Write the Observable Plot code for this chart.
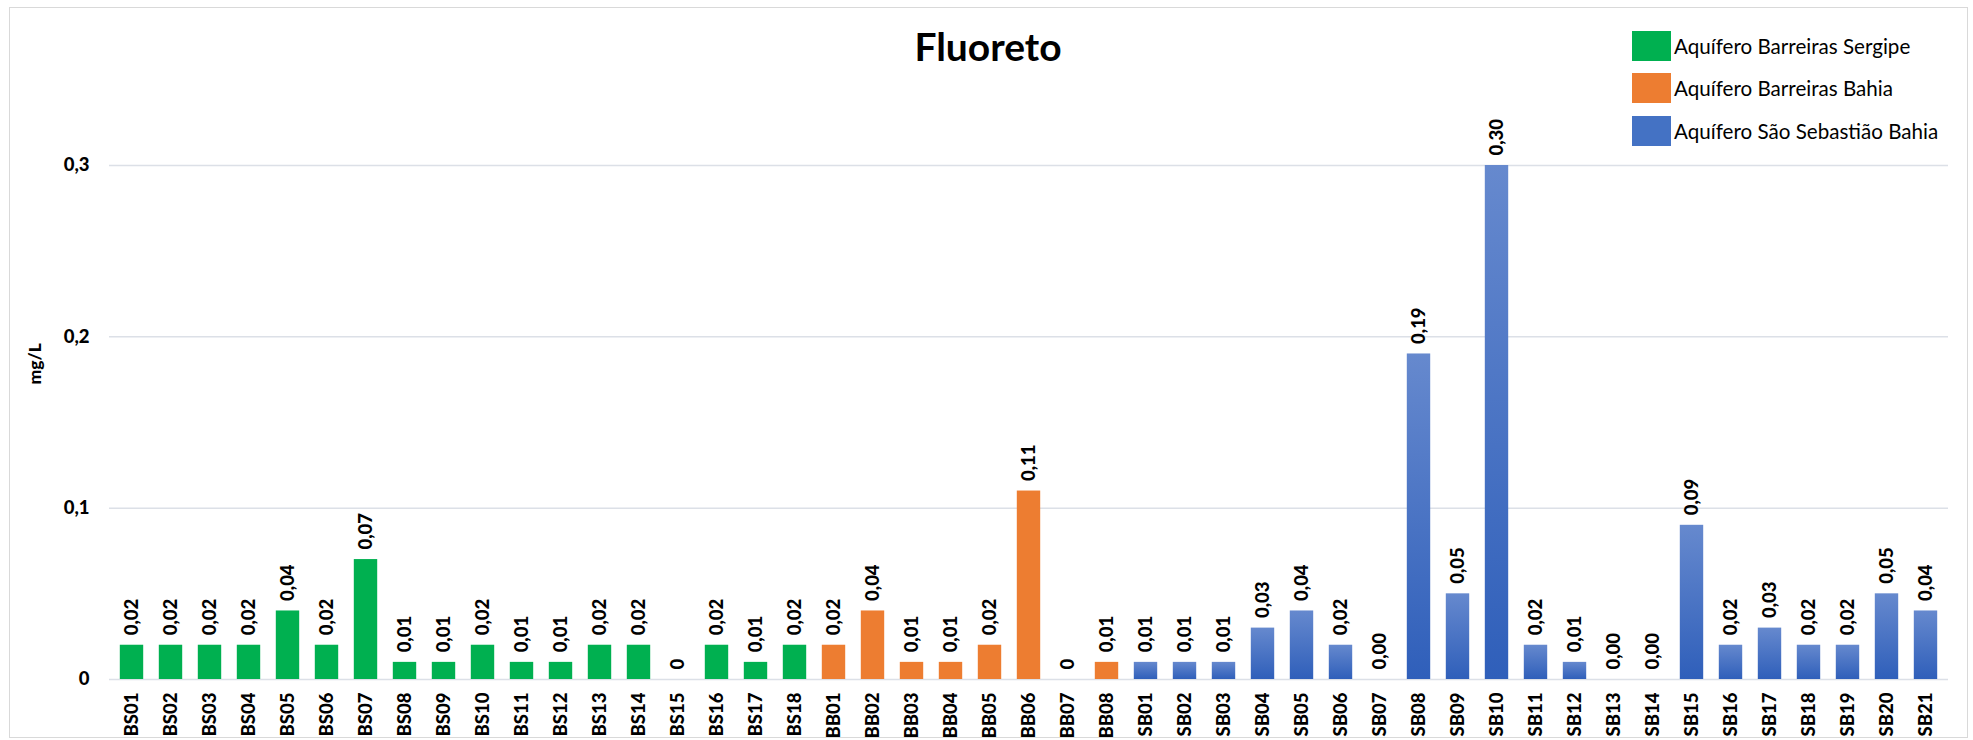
<!DOCTYPE html>
<html lang="pt">
<head>
<meta charset="utf-8">
<script src="https://cdn.jsdelivr.net/npm/d3@7"></script>
<script src="https://cdn.jsdelivr.net/npm/@observablehq/plot@0.6"></script>
<style>
  html, body { margin: 0; padding: 0; background: #fff; }
  #chart { position: relative; width: 1973px; height: 740px; font-family: Lato, "Open Sans", sans-serif; color: #000; }
  #chart svg { position: absolute; left: 0; top: 0; }
  #frame { position: absolute; left: 9px; top: 7px; width: 1959px; height: 731px; border: 1px solid #d9d9d9; box-sizing: border-box; }
  #title { position: absolute; left: 788px; width: 400px; top: 22px; text-align: center; font-weight: 700; font-size: 39px; line-height: 48px; }
  .key { position: absolute; left: 1632px; height: 30px; display: flex; align-items: center; font-size: 20.6px; white-space: nowrap; }
  .swatch { width: 39px; height: 30px; margin-right: 3px; }
</style>
</head>
<body>
<div id="chart">
  <div id="frame"></div>
</div>
<script>
// Fluoride concentration (mg/L) per well, grouped by aquifer
const bsIds = ["BS01","BS02","BS03","BS04","BS05","BS06","BS07","BS08","BS09","BS10","BS11","BS12","BS13","BS14","BS15","BS16","BS17","BS18"];
const bsValues = [0.02,0.02,0.02,0.02,0.04,0.02,0.07,0.01,0.01,0.02,0.01,0.01,0.02,0.02,0,0.02,0.01,0.02];

const bbIds = ["BB01","BB02","BB03","BB04","BB05","BB06","BB07","BB08"];
const bbValues = [0.02,0.04,0.01,0.01,0.02,0.11,0,0.01];

const sbIds = ["SB01","SB02","SB03","SB04","SB05","SB06","SB07","SB08","SB09","SB10","SB11","SB12","SB13","SB14","SB15","SB16","SB17","SB18","SB19","SB20","SB21"];
const sbValues = [0.01,0.01,0.01,0.03,0.04,0.02,0.00,0.19,0.05,0.30,0.02,0.01,0.00,0.00,0.09,0.02,0.03,0.02,0.02,0.05,0.04];

const groupNames = ["Aquífero Barreiras Sergipe", "Aquífero Barreiras Bahia", "Aquífero São Sebastião Bahia"];
const groupColors = ["#00b050", "#ed7d31", "#4472c4"];
const yTicks = [0, 0.1, 0.2, 0.3];

const rows = [
  ...bsIds.map((id, i) => ({id, value: bsValues[i], group: 0})),
  ...bbIds.map((id, i) => ({id, value: bbValues[i], group: 1})),
  ...sbIds.map((id, i) => ({id, value: sbValues[i], group: 2}))
];

// Barreiras wells print a plain "0" for zero; São Sebastião keeps two decimals
const fmt = (d) => (d.value === 0 && d.group !== 2) ? "0" : d.value.toFixed(2).replace(".", ",");
const decimalComma = (v) => v === 0 ? "0" : String(v).replace(".", ",");

const gradientDefs = () => {
  const defs = d3.create("svg:defs");
  const g = defs.append("linearGradient").attr("id", "sbgrad")
    .attr("x1", 0).attr("y1", 0).attr("x2", 0).attr("y2", 1);
  g.append("stop").attr("offset", "0%").attr("stop-color", "#6689ce");
  g.append("stop").attr("offset", "100%").attr("stop-color", "#2f5fba");
  return defs.node();
};

const labelFont = {fontSize: 18.5, fontWeight: 900, fill: "#000"};

const chart = Plot.plot({
  width: 1973,
  height: 740,
  marginLeft: 109,
  marginRight: 25,
  marginTop: 165,
  marginBottom: 61,
  style: {fontFamily: "Lato, 'Open Sans', sans-serif", color: "#000", background: "transparent", overflow: "visible"},
  x: {domain: rows.map(d => d.id), padding: 0},
  y: {domain: [0, 0.3]},
  marks: [
    gradientDefs,
    Plot.gridY(yTicks, {stroke: "#dce0e7", strokeOpacity: 1, strokeWidth: 1.5}),
    Plot.barY(rows.filter(d => d.group === 0), {x: "id", y: "value", fill: groupColors[0], insetLeft: 7.8, insetRight: 7.8}),
    Plot.barY(rows.filter(d => d.group === 1), {x: "id", y: "value", fill: groupColors[1], insetLeft: 7.8, insetRight: 7.8}),
    Plot.barY(rows.filter(d => d.group === 2), {x: "id", y: "value", fill: "url(#sbgrad)", insetLeft: 7.8, insetRight: 7.8}),
    Plot.text(rows, {x: "id", y: "value", text: fmt, rotate: -90, textAnchor: "start", dy: -10, ...labelFont}),
    Plot.axisY({ticks: yTicks, tickSize: 0, tickPadding: 20, tickFormat: decimalComma, label: null, fontSize: 18.5, fontWeight: 900}),
    Plot.axisX({tickRotate: -90, tickSize: 0, tickPadding: 13, label: null, fontSize: 18.5, fontWeight: 900}),
    Plot.text(["mg/L"], {frameAnchor: "left", dx: -74, dy: -38, rotate: -90, ...labelFont, fontSize: 17.5})
  ]
});

const container = document.getElementById("chart");
container.appendChild(chart);

const title = document.createElement("div");
title.id = "title";
title.textContent = "Fluoreto";
container.appendChild(title);

const keyCenters = [46, 88, 131];
groupNames.forEach((name, i) => {
  const row = document.createElement("div");
  row.className = "key";
  row.style.top = (keyCenters[i] - 15) + "px";
  const sw = document.createElement("div");
  sw.className = "swatch";
  sw.style.background = groupColors[i];
  const label = document.createElement("span");
  label.textContent = name;
  row.appendChild(sw);
  row.appendChild(label);
  container.appendChild(row);
});
</script>
</body>
</html>
